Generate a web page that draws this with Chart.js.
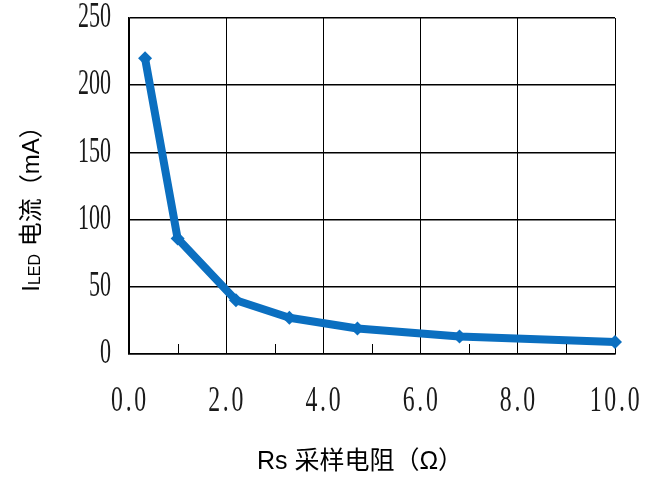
<!DOCTYPE html>
<html>
<head>
<meta charset="utf-8">
<script src="https://cdn.jsdelivr.net/npm/chart.js@4"></script>
<style>
    html, body { margin: 0; padding: 0; background: #fff; }
    #wrap { width: 660px; height: 481px; position: relative; }
</style>
</head>
<body>
<div id="wrap"><canvas id="ledChart"></canvas></div>
<script>
// Rs (ohm) vs LED current (mA)
const resistance = [0.33, 1.0, 2.2, 3.3, 4.7, 6.8, 10.0];
const current = [220, 86, 40, 27, 19, 13, 9];
const xTicks = [0, 2, 4, 6, 8, 10];
const yTicks = [0, 50, 100, 150, 200, 250];
const xTitle = 'Rs 采样电阻（Ω）';
const yTitleParts = ['I', 'LED', ' 电流（mA）'];

const lineColor = '#0B6FC0';
const tickFont = '"Liberation Serif", "DejaVu Serif", serif';
const titleFont = '"Liberation Sans", "Noto Sans CJK SC", sans-serif';

// tall, narrow tick labels plus the axis titles
const labelPlugin = {
    id: 'labels',
    afterDraw(chart) {
        const ctx = chart.ctx;
        const xs = chart.scales.x;
        const ys = chart.scales.y;
        const area = chart.chartArea;

        // little inside ticks on odd x values
        ctx.save();
        ctx.strokeStyle = '#000';
        ctx.lineWidth = 1;
        [1, 3, 5, 7, 9].forEach(v => {
            const px = Math.round(xs.getPixelForValue(v)) + 0.5;
            ctx.beginPath();
            ctx.moveTo(px, area.bottom);
            ctx.lineTo(px, area.bottom - 10);
            ctx.stroke();
        });
        ctx.restore();

        ctx.save();
        ctx.fillStyle = '#1a1a1a';
        ctx.font = '35px ' + tickFont;
        ctx.textBaseline = 'middle';

        yTicks.forEach(v => {
            const py = ys.getPixelForValue(v);
            ctx.save();
            ctx.translate(111, py);
            ctx.scale(0.63, 1);
            ctx.textAlign = 'right';
            ctx.fillText(String(v), 0, 0);
            ctx.restore();
        });

        ctx.letterSpacing = '4px';
        xTicks.forEach(v => {
            const px = xs.getPixelForValue(v);
            ctx.save();
            ctx.translate(px + 1, 402);
            ctx.scale(0.68, 1);
            ctx.textAlign = 'center';
            ctx.fillText(v.toFixed(1), 0, 0);
            ctx.restore();
        });
        ctx.restore();

        // x title
        ctx.save();
        ctx.fillStyle = '#000';
        ctx.font = '25px ' + titleFont;
        ctx.textAlign = 'center';
        ctx.textBaseline = 'middle';
        ctx.fillText(xTitle, 360, 462);
        ctx.restore();

        // y title with subscript
        ctx.save();
        ctx.translate(30, 203);
        ctx.rotate(-Math.PI / 2);
        ctx.fillStyle = '#000';
        ctx.textBaseline = 'alphabetic';
        const big = '24px ' + titleFont;
        const small = '16px ' + titleFont;
        ctx.font = big;
        const w0 = ctx.measureText(yTitleParts[0]).width;
        const w2 = ctx.measureText(yTitleParts[2]).width;
        ctx.font = small;
        const w1 = ctx.measureText(yTitleParts[1]).width + 1;
        let x = -(w0 + w1 + w2) / 2;
        ctx.font = big;
        ctx.fillText(yTitleParts[0], x, 9);
        x += w0;
        ctx.font = small;
        ctx.fillText(yTitleParts[1], x, 10);
        x += w1;
        ctx.font = big;
        ctx.fillText(yTitleParts[2], x, 9);
        ctx.restore();
    }
};

new Chart(document.getElementById('ledChart'), {
    type: 'scatter',
    data: {
        datasets: [{
            data: resistance.map((r, i) => ({ x: r, y: current[i] })),
            showLine: true,
            borderColor: lineColor,
            backgroundColor: lineColor,
            borderWidth: 8,
            borderJoinStyle: 'round',
            tension: 0,
            pointStyle: 'rectRot',
            pointRadius: 7,
            pointBorderWidth: 0,
            clip: false
        }]
    },
    options: {
        responsive: true,
        maintainAspectRatio: false,
        animation: false,
        layout: {
            padding: { left: 129, right: 45, top: 18, bottom: 127 }
        },
        plugins: {
            legend: { display: false },
            tooltip: { enabled: false }
        },
        scales: {
            x: {
                type: 'linear',
                min: 0,
                max: 10,
                afterBuildTicks: axis => {
                    axis.ticks = xTicks.map(v => ({ value: v }));
                },
                ticks: { display: false },
                grid: { color: '#000', lineWidth: 1, drawTicks: false },
                border: { color: '#000', width: 1.5 }
            },
            y: {
                min: 0,
                max: 250,
                afterBuildTicks: axis => {
                    axis.ticks = yTicks.map(v => ({ value: v }));
                },
                ticks: { display: false },
                grid: { color: '#000', lineWidth: 1.5, drawTicks: false },
                border: { color: '#000', width: 1.5 }
            }
        }
    },
    plugins: [labelPlugin]
});
</script>
</body>
</html>
